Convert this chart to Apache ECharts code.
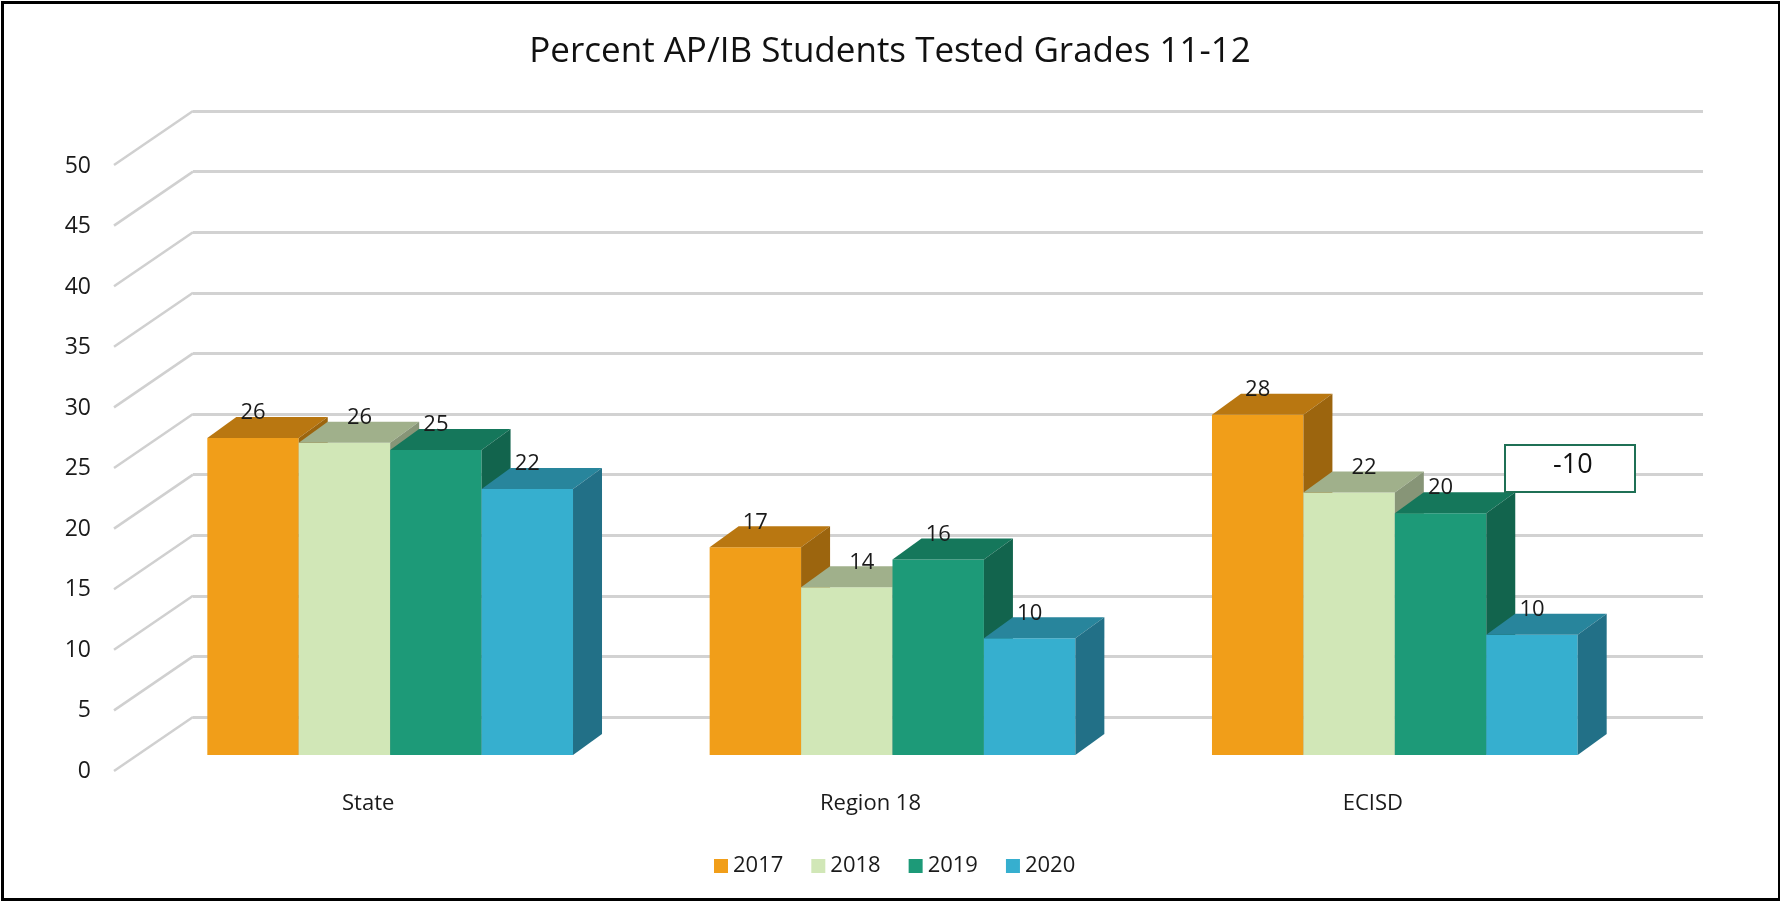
<!DOCTYPE html>
<html style="height: 100%">
<head>
    <meta charset="utf-8">
</head>
<body style="height: 100%; margin: 0; background: #fff">
<div id="chart_container" style="width: 1780px; height: 902px"></div>
<script src="https://cdn.jsdelivr.net/npm/echarts@6.0.0/dist/echarts.min.js"></script>
<script type="text/javascript">

    // data (labels show the rounded value)
    var categories = ['State', 'Region 18', 'ECISD'];
    var years = ['2017', '2018', '2019', '2020'];
    var values2017 = [26.1, 17.1, 28.0];
    var values2018 = [25.7, 13.8, 21.6];
    var values2019 = [25.1, 16.1, 19.9];
    var values2020 = [21.9, 9.6, 9.9];
    var yTicks = [0, 5, 10, 15, 20, 25, 30, 35, 40, 45, 50];
    var noteText = '-10';

    var seriesValues = [values2017, values2018, values2019, values2020];

    // front / top / side shades of each year
    var palette = [
        {front: '#F19E19', top: '#B97711', side: '#9C650E'},
        {front: '#D1E7B7', top: '#A0B08B', side: '#879577'},
        {front: '#1D9A78', top: '#15775B', side: '#12644D'},
        {front: '#36AFCF', top: '#28859C', side: '#227087'}
    ];
    var labelShift = [0, 15, 0, 0];

    var FONT = '"Open Sans", "Noto Sans", sans-serif';
    var TEXT_COLOR = '#1a1a1a';
    var BAR_RATIO = 0.182;     // bar width as part of a category band
    var DX = 29, DY = 21;      // bar depth on screen
    var FLOOR_DX = 79, FLOOR_DY = 54;   // floor depth, back wall -> front edge

    function makeBarRender(i) {
        return function (params, api) {
            var cat = api.value(0);
            var val = api.value(1);
            var base = api.coord([cat, 0]);
            var top = api.coord([cat, val]);
            var band = api.size([1, 0])[0];
            var bw = band * BAR_RATIO;
            var x = base[0] + (i - 2) * bw;
            var yb = base[1], yt = top[1];
            var c = palette[i];
            return {
                type: 'group',
                children: [
                    {type: 'rect', z2: i, shape: {x: x, y: yt, width: bw, height: yb - yt},
                        style: {fill: c.front}},
                    {type: 'polygon', z2: i, shape: {points: [[x, yt], [x + DX, yt - DY], [x + bw + DX, yt - DY], [x + bw, yt]]},
                        style: {fill: c.top}},
                    {type: 'polygon', z2: i, shape: {points: [[x + bw, yt], [x + bw + DX, yt - DY], [x + bw + DX, yb - DY], [x + bw, yb]]},
                        style: {fill: c.side}},
                    {type: 'text', z2: 20, style: {
                        text: String(Math.round(val)),
                        x: x + bw / 2 + labelShift[i], y: yt - 25,
                        align: 'center', verticalAlign: 'middle',
                        font: '22px ' + FONT, fill: TEXT_COLOR
                    }}
                ]
            };
        };
    }

    function renderDiagonal(params, api) {
        var p = api.coord([0, api.value(1)]);
        var left = params.coordSys.x;
        return {
            type: 'line',
            shape: {x1: left, y1: p[1], x2: left - FLOOR_DX, y2: p[1] + FLOOR_DY},
            style: {stroke: '#d0d0d0', lineWidth: 2.5}
        };
    }

    var series = [{
        type: 'custom',
        xAxisIndex: 2,
        yAxisIndex: 2,
        z: 1,
        silent: true,
        renderItem: renderDiagonal,
        data: yTicks.map(function (v) { return [0, v]; })
    }];

    years.forEach(function (y, i) {
        series.push({
            name: y,
            type: 'custom',
            xAxisIndex: 0,
            yAxisIndex: 0,
            z: 3,
            itemStyle: {color: palette[i].front},
            renderItem: makeBarRender(i),
            encode: {x: 0, y: 1},
            data: seriesValues[i].map(function (v, k) { return [k, v]; })
        });
    });

    var option = {
        animation: false,
        backgroundColor: '#fff',
        title: {
            text: 'Percent AP/IB Students Tested Grades 11-12',
            left: 'center',
            top: 30,
            textStyle: {fontFamily: FONT, fontSize: 35, fontWeight: 'normal', color: '#111'}
        },
        legend: {
            data: years,
            icon: 'rect',
            itemWidth: 14,
            itemHeight: 14,
            itemGap: 28,
            left: 709,
            top: 850,
            textStyle: {fontFamily: FONT, fontSize: 22, color: TEXT_COLOR}
        },
        grid: [
            {left: 139, right: 134, top: 147.5, bottom: 147},   // bar plane
            {left: 117, right: 156, top: 166, bottom: 131},     // front edge of the floor
            {left: 193, right: 77, top: 111, bottom: 185}       // back wall
        ],
        xAxis: [
            {type: 'category', gridIndex: 0, data: categories, show: false},
            {type: 'category', gridIndex: 1, data: categories,
                axisLine: {show: false}, axisTick: {show: false}, splitLine: {show: false},
                axisLabel: {margin: 22, fontFamily: FONT, fontSize: 22, color: TEXT_COLOR}},
            {type: 'category', gridIndex: 2, data: categories, show: false}
        ],
        yAxis: [
            {type: 'value', gridIndex: 0, min: 0, max: 50, interval: 5, show: false},
            {type: 'value', gridIndex: 1, min: 0, max: 50, interval: 5,
                axisLine: {show: false}, axisTick: {show: false}, splitLine: {show: false},
                axisLabel: {margin: 26, fontFamily: FONT, fontSize: 23, color: TEXT_COLOR}},
            {type: 'value', gridIndex: 2, min: 0, max: 50, interval: 5,
                axisLine: {show: false}, axisTick: {show: false}, axisLabel: {show: false},
                splitLine: {show: true, lineStyle: {color: '#d2d2d2', width: 3}}}
        ],
        graphic: [
            {type: 'rect', left: 1504, top: 444, z: 10,
                shape: {width: 130, height: 47},
                style: {fill: '#fff', stroke: '#1f7055', lineWidth: 2}},
            {type: 'text', left: 1553, top: 452, z: 11,
                style: {text: noteText, font: '27px ' + FONT, fill: '#111'}},
            {type: 'rect', left: 0, top: 0, z: 12, silent: true,
                shape: {x: 1.5, y: 1.5, width: 1777, height: 897},
                style: {fill: 'none', stroke: '#000', lineWidth: 3}}
        ],
        series: series
    };

    var chart_container = document.getElementById('chart_container');
    var myChart = echarts.init(chart_container);
    myChart.setOption(option);
</script>
</body>
</html>
